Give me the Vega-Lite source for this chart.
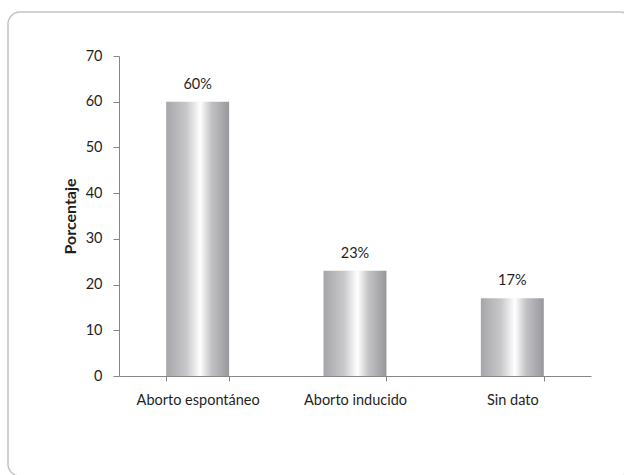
{
  "$schema": "https://vega.github.io/schema/vega-lite/v6.json",
  "autosize": "none",
  "width": 624,
  "height": 464,
  "padding": {"left": 8, "top": 12, "right": 0, "bottom": 0},
  "background": "white",
  "config": {
    "font": "Lato",
    "view": {"stroke": "#c4c4c4", "strokeWidth": 1.5, "cornerRadius": 12}
  },
  "data": {
    "values": [
      {"tipo": "Aborto espontáneo", "porcentaje": 60, "etiqueta": "60%"},
      {"tipo": "Aborto inducido", "porcentaje": 23, "etiqueta": "23%"},
      {"tipo": "Sin dato", "porcentaje": 17, "etiqueta": "17%"}
    ]
  },
  "encoding": {
    "x": {
      "field": "tipo",
      "type": "nominal",
      "sort": null,
      "scale": {"range": [111, 583], "paddingInner": 0.6, "paddingOuter": 0.3},
      "axis": {
        "title": null,
        "offset": -100,
        "labelAngle": 0,
        "labelFontSize": 14.5,
        "labelColor": "#1f1f1f",
        "labelPadding": 12,
        "tickBand": "extent",
        "tickSize": 5,
        "tickColor": "#868686",
        "domainColor": "#868686",
        "grid": false
      }
    },
    "y": {
      "field": "porcentaje",
      "type": "quantitative",
      "scale": {"domain": [0, 70], "range": [364, 44], "nice": false},
      "axis": {
        "title": "Porcentaje",
        "titleFontSize": 16,
        "titleFontWeight": "bold",
        "titleColor": "#1f1f1f",
        "titlePadding": 7,
        "offset": -111,
        "values": [0, 10, 20, 30, 40, 50, 60, 70],
        "labelFontSize": 14.5,
        "labelColor": "#1f1f1f",
        "labelPadding": 11,
        "tickSize": 6,
        "tickColor": "#868686",
        "domainColor": "#868686",
        "grid": false
      }
    }
  },
  "layer": [
    {
      "mark": {
        "type": "bar",
        "color": {
          "gradient": "linear",
          "x1": 0, "y1": 0, "x2": 1, "y2": 0,
          "stops": [
            {"offset": 0, "color": "#a6a6aa"},
            {"offset": 0.32, "color": "#c8c8cb"},
            {"offset": 0.54, "color": "#ffffff"},
            {"offset": 0.72, "color": "#c2c2c5"},
            {"offset": 1, "color": "#98989c"}
          ]
        }
      }
    },
    {
      "mark": {"type": "text", "baseline": "bottom", "dy": -10, "fontSize": 14.5, "color": "#1f1f1f"},
      "encoding": {"text": {"field": "etiqueta"}}
    }
  ]
}
